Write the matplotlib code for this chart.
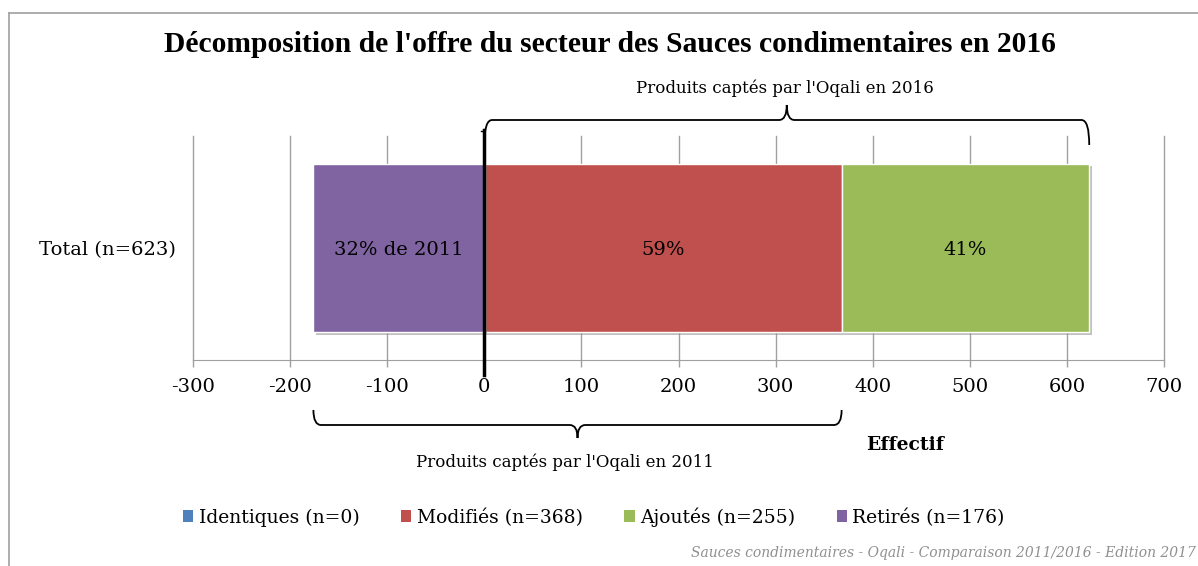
import matplotlib.pyplot as plt
import matplotlib.patheffects as pe
from matplotlib.path import Path
from matplotlib.patches import PathPatch, Patch
from matplotlib.transforms import blended_transform_factory

# Data
category = "Total (n=623)"
series = ["Identiques", "Modifiés", "Ajoutés", "Retirés"]
counts = [0, 368, 255, 176]
colors = ["#4F81BD", "#C0504D", "#9BBB59", "#8064A2"]
bar_labels = ["", "59%", "41%", "32% de 2011"]
xticks = [-300, -200, -100, 0, 100, 200, 300, 400, 500, 600, 700]

plt.rcParams["font.family"] = ["DejaVu Serif"]

W, H = 1198, 566
fig = plt.figure(figsize=(W / 100, H / 100), dpi=100)


def fy(py):
    return 1 - py / H


ax = fig.add_axes([193 / W, fy(360), (1164 - 193) / W, (360 - 136) / H])

# stacked bars: Retirés negative, then Modifiés, Ajoutés
n_ident, n_mod, n_add, n_ret = counts
starts = [0, 0, n_mod, -n_ret]
widths = [n_ident, n_mod, n_add, n_ret]
shadow = [pe.SimplePatchShadow(offset=(2, -2), shadow_rgbFace="#999999", alpha=0.6), pe.Normal()]
for s, w, c, lab in zip(starts, widths, colors, bar_labels):
    if w == 0:
        continue
    b = ax.barh(0, w, left=s, height=0.754, color=c, edgecolor="white", linewidth=1, zorder=3)
    for p in b:
        p.set_path_effects(shadow)
    ax.text(s + w / 2, -0.01, lab, ha="center", va="center", fontsize=14, zorder=4)

ax.set_xlim(-300, 700)
ax.set_ylim(-0.5, 0.5)
ax.set_xticks(xticks)
ax.set_xticklabels([str(t) for t in xticks], fontsize=14)
ax.set_yticks([0])
ax.set_yticklabels([category], fontsize=14)
ax.tick_params(axis="y", length=0, pad=12)
ax.tick_params(axis="x", length=5, color="#A0A0A0", width=1, pad=8)
ax.grid(axis="x", color="#A0A0A0", linewidth=1, zorder=0)
for gl in ax.get_xgridlines():
    gl.set_clip_on(False)
for side in ["top", "right", "left"]:
    ax.spines[side].set_visible(False)
ax.spines["bottom"].set_color("#A0A0A0")

# thick vertical axis at 0
tr = blended_transform_factory(ax.transData, fig.transFigure)
ax.plot([0, 0], [fy(130), fy(375)], color="black", linewidth=2.5, transform=tr, clip_on=False, zorder=5)
ax.plot([-3, 0], [fy(131), fy(131)], color="black", linewidth=1, transform=tr, clip_on=False, zorder=5)


def brace(x0, x1, y_end, y_mid, y_tip, rx=8):
    xm = (x0 + x1) / 2
    verts = [(x0, y_end), (x0, y_mid), (x0 + rx, y_mid), (xm - rx, y_mid),
             (xm, y_mid), (xm, y_tip), (xm, y_mid), (xm + rx, y_mid),
             (x1 - rx, y_mid), (x1, y_mid), (x1, y_end)]
    codes = [Path.MOVETO, Path.CURVE3, Path.CURVE3, Path.LINETO,
             Path.CURVE3, Path.CURVE3, Path.CURVE3, Path.CURVE3,
             Path.LINETO, Path.CURVE3, Path.CURVE3]
    patch = PathPatch(Path(verts, codes), fill=False, edgecolor="black", linewidth=1.3,
                      transform=tr, clip_on=False)
    ax.add_patch(patch)
    return xm


xm_top = brace(0, n_mod + n_add, fy(145), fy(120), fy(105))
ax.text(xm_top - 2, fy(88), "Produits captés par l'Oqali en 2016", transform=tr,
        ha="center", va="center", fontsize=12)
xm_bot = brace(-n_ret, n_mod, fy(410), fy(425), fy(438))
ax.text(xm_bot - 13, fy(462), "Produits captés par l'Oqali en 2011", transform=tr,
        ha="center", va="center", fontsize=12)

fig.text(905 / W, fy(445), "Effectif", ha="center", va="center", fontsize=13.5, fontweight="bold")
fig.text(610 / W, fy(45), "Décomposition de l'offre du secteur des Sauces condimentaires en 2016",
         ha="center", va="center", fontsize=21.3, fontweight="bold", family="Liberation Serif")

handles = [Patch(facecolor=c, edgecolor="none") for c in colors]
labels = [f"{s} (n={n})" for s, n in zip(series, counts)]
fig.legend(handles, labels, loc="center", bbox_to_anchor=(594 / W, fy(517)), ncol=4,
           frameon=False, fontsize=13.5, handlelength=0.55, handleheight=0.55,
           handletextpad=0.3, columnspacing=2.2)

fig.text(1196 / W, fy(553), "Sauces condimentaires - Oqali - Comparaison 2011/2016 - Edition 2017",
         ha="right", va="center", fontsize=10, style="italic", color="#909090")

# chart frame
fig.add_artist(plt.Line2D([9 / W, 9 / W], [0, fy(13)], color="#A0A0A0", linewidth=1.2, transform=fig.transFigure))
fig.add_artist(plt.Line2D([9 / W, 1], [fy(13), fy(13)], color="#A0A0A0", linewidth=1.2, transform=fig.transFigure))

fig.savefig("out.png", dpi=100)
